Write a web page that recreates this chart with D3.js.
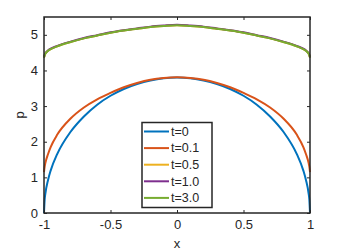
<!DOCTYPE html>
<html><head><meta charset="utf-8">
<script src="https://cdn.jsdelivr.net/npm/d3@7"></script>
<style>body{margin:0;background:#fff}svg{display:block}text{font-family:"Liberation Sans",Arial,sans-serif;fill:#262626}</style>
</head><body>
<svg id="c" width="342" height="252"></svg>
<script>
const xs = [-1,-0.995,-0.99,-0.97,-0.95,-0.9,-0.8,-0.7,-0.6,-0.5,-0.4,-0.3,-0.2,-0.1,0,0.1,0.2,0.3,0.4,0.5,0.6,0.7,0.8,0.9,0.95,0.97,0.99,0.995,1];
const pT0  = [0,0.38,0.54,0.92,1.19,1.66,2.28,2.71,3.04,3.29,3.48,3.62,3.72,3.78,3.80,3.78,3.72,3.62,3.48,3.29,3.04,2.71,2.28,1.66,1.19,0.92,0.54,0.38,0];
const pT01 = [1.15,1.3,1.4,1.65,1.85,2.2,2.65,2.96,3.19,3.37,3.53,3.65,3.74,3.79,3.81,3.79,3.74,3.65,3.53,3.37,3.19,2.96,2.65,2.2,1.85,1.65,1.4,1.3,1.15];
const pT05 = [4.36,4.43,4.47,4.55,4.6,4.68,4.8,4.9,4.98,5.06,5.12,5.17,5.22,5.25,5.27,5.25,5.22,5.17,5.12,5.06,4.98,4.9,4.8,4.68,4.6,4.55,4.47,4.43,4.36];
const pT1  = [4.37,4.44,4.48,4.56,4.61,4.69,4.81,4.91,4.99,5.07,5.13,5.18,5.23,5.26,5.28,5.26,5.23,5.18,5.13,5.07,4.99,4.91,4.81,4.69,4.61,4.56,4.48,4.44,4.37];
const pT3  = [4.36,4.43,4.47,4.55,4.6,4.68,4.8,4.9,4.98,5.06,5.12,5.17,5.22,5.25,5.27,5.25,5.22,5.17,5.12,5.06,4.98,4.9,4.8,4.68,4.6,4.55,4.47,4.43,4.36];
const labels = ["t=0","t=0.1","t=0.5","t=1.0","t=3.0"];
const colors = ["#0072BD","#D95319","#EDB120","#7E2F8E","#77AC30"];
const series = [pT0,pT01,pT05,pT1,pT3];
const xTicks = [-1,-0.5,0,0.5,1];
const xTickLabels = ["-1","-0.5","0","0.5","1"];
const yTicks = [0,1,2,3,4,5];

const svg = d3.select("#c");
const L=44,R=310,T=17,B=213;
const x = d3.scaleLinear().domain([-1,1]).range([L,R]);
const y = d3.scaleLinear().domain([0,5.5]).range([B,T]);

const line = d3.line().x((d,i)=>x(xs[i])).y(d=>y(d)).curve(d3.curveMonotoneX);
series.forEach((s,k)=>{
  svg.append("path").attr("d",line(s)).attr("fill","none").attr("stroke",colors[k]).attr("stroke-width",2);
});

const ax = "#262626";
const gB = svg.append("g").attr("transform",`translate(0,${B})`)
  .call(d3.axisBottom(x).tickValues(xTicks).tickFormat((d,i)=>xTickLabels[i]).tickSizeInner(-3).tickSizeOuter(0).tickPadding(7));
const gT = svg.append("g").attr("transform",`translate(0,${T})`)
  .call(d3.axisTop(x).tickValues(xTicks).tickFormat("").tickSizeInner(-3).tickSizeOuter(0));
const gL = svg.append("g").attr("transform",`translate(${L},0)`)
  .call(d3.axisLeft(y).tickValues(yTicks).tickFormat(d3.format("d")).tickSizeInner(-3).tickSizeOuter(0).tickPadding(6));
const gR = svg.append("g").attr("transform",`translate(${R},0)`)
  .call(d3.axisRight(y).tickValues(yTicks).tickFormat("").tickSizeInner(-3).tickSizeOuter(0));
[gB,gT,gL,gR].forEach(g=>{
  g.select(".domain").remove();
  g.selectAll("line").attr("stroke",ax).attr("stroke-width",1);
  g.selectAll("text").attr("font-size",13).style("fill",ax).attr("font-family","Liberation Sans, Arial, sans-serif");
});
svg.append("rect").attr("x",L).attr("y",T).attr("width",R-L).attr("height",B-T)
  .attr("fill","none").attr("stroke",ax).attr("stroke-width",1.5);

svg.append("text").attr("x",(L+R)/2).attr("y",248).attr("text-anchor","middle").attr("font-size",13).text("x");
svg.append("text").attr("transform",`translate(24,${(T+B)/2}) rotate(-90)`).attr("text-anchor","middle").attr("font-size",13).text("p");

const lg = svg.append("g");
lg.append("rect").attr("x",142).attr("y",122.5).attr("width",70).attr("height",85)
  .attr("fill","#fff").attr("stroke",ax).attr("stroke-width",1.5);
labels.forEach((t,i)=>{
  const yy = 131.5 + i*16.6;
  lg.append("line").attr("x1",144).attr("x2",169).attr("y1",yy).attr("y2",yy).attr("stroke",colors[i]).attr("stroke-width",2);
  lg.append("text").attr("x",171).attr("y",yy+4.3).attr("font-size",12.5).text(t);
});
</script>
</body></html>
